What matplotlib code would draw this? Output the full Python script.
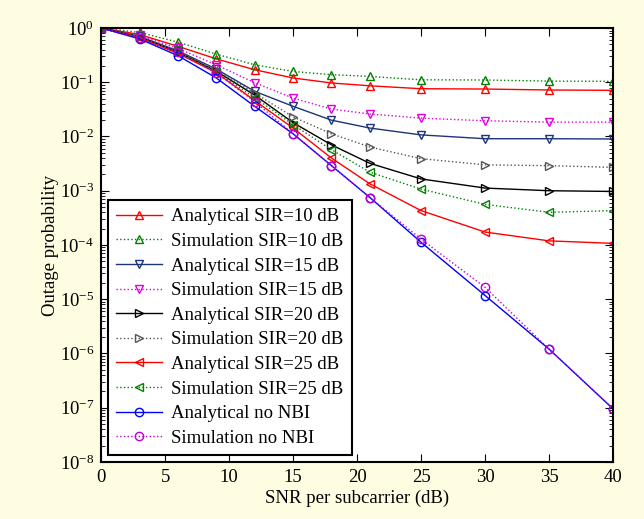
import matplotlib.pyplot as plt
import numpy as np

snr_db = [0, 3, 6, 9, 12, 15, 18, 21, 25, 30, 35, 40]

ana_sir10 = [1, 0.76, 0.46, 0.27, 0.17, 0.12, 0.097, 0.086, 0.076, 0.075, 0.072, 0.071]
sim_sir10 = [1, 0.83, 0.55, 0.33, 0.21, 0.158, 0.138, 0.128, 0.111, 0.110, 0.105, 0.104]
ana_sir15 = [1, 0.70, 0.38, 0.175, 0.068, 0.036, 0.020, 0.0143, 0.0107, 0.0091, 0.0091, 0.0090]
sim_sir15 = [1, 0.73, 0.42, 0.21, 0.098, 0.051, 0.032, 0.026, 0.0218, 0.0195, 0.0184, 0.0184]
ana_sir20 = [1, 0.68, 0.36, 0.16, 0.058, 0.018, 0.0070, 0.0032, 0.00165, 0.00112, 0.0010, 0.00097]
sim_sir20 = [1, 0.69, 0.37, 0.165, 0.063, 0.023, 0.0112, 0.0064, 0.0039, 0.0030, 0.0029, 0.0027]
ana_sir25 = [1, 0.66, 0.34, 0.15, 0.046, 0.0143, 0.0040, 0.00134, 4.3e-4, 1.73e-4, 1.19e-4, 1.07e-4]
sim_sir25 = [1, 0.67, 0.35, 0.155, 0.052, 0.0165, 0.0057, 0.0022, 1.07e-3, 5.6e-4, 4.0e-4, 4.3e-4]
ana_nonbi = [1, 0.63, 0.31, 0.12, 0.036, 0.0112, 0.0029, 7.5e-4, 1.12e-4, 1.17e-5, 1.2e-6, 9.5e-8]
sim_nonbi = [1, 0.65, 0.36, 0.148, 0.044, 0.0112, 0.0029, 7.5e-4, 1.28e-4, 1.65e-5, 1.2e-6, 9.5e-8]

plt.rcParams['font.family'] = ['Liberation Serif', 'DejaVu Serif']
plt.rcParams['mathtext.fontset'] = 'stix'

fs = 13.5
fig = plt.figure(figsize=(6.44, 5.19), dpi=100, facecolor='#FEFCE1')
ax = fig.add_axes([0.157, 0.110, 0.795, 0.836])

mk = dict(markerfacecolor='none', markersize=6, markeredgewidth=1.0, linewidth=1.0)
ax.semilogy(snr_db, ana_sir10, '-^', color='red', label='Analytical SIR=10 dB', **mk)
ax.semilogy(snr_db, sim_sir10, ':^', color='green', label='Simulation SIR=10 dB', **mk)
ax.semilogy(snr_db, ana_sir15, '-v', color='#1C3578', label='Analytical SIR=15 dB', **mk)
ax.semilogy(snr_db, sim_sir15, ':v', color='#E000E0', label='Simulation SIR=15 dB', **mk)
ax.semilogy(snr_db, ana_sir20, '->', color='black', label='Analytical SIR=20 dB', **mk)
ax.semilogy(snr_db, sim_sir20, ':>', color='#555555', label='Simulation SIR=20 dB', **mk)
ax.semilogy(snr_db, ana_sir25, '-<', color='red', label='Analytical SIR=25 dB', **mk)
ax.semilogy(snr_db, sim_sir25, ':<', color='green', label='Simulation SIR=25 dB', **mk)
ax.semilogy(snr_db, ana_nonbi, '-o', color='blue', label='Analytical no NBI', **mk)
ax.semilogy(snr_db, sim_nonbi, ':o', color='#C000D0', label='Simulation no NBI', **mk)

ax.set_xlim(0, 40)
ax.set_ylim(1e-8, 1)
ax.set_xticks(np.arange(0, 41, 5))
ax.set_yticks([10.0 ** k for k in range(-8, 1)])
ax.tick_params(which='both', direction='in', top=True, right=True, labelsize=fs, pad=5)
ax.tick_params(which='major', length=6)
ax.tick_params(which='minor', length=3)
for s in ax.spines.values():
    s.set_linewidth(1.5)

ax.set_xlabel('SNR per subcarrier (dB)', fontsize=fs, labelpad=3)
ax.set_ylabel('Outage probability', fontsize=fs, labelpad=0)

leg = ax.legend(loc='lower left', fontsize=fs, handlelength=2.45, labelspacing=0.40,
                fancybox=False, edgecolor='black', framealpha=1, borderaxespad=0.35,
                borderpad=0.45, handletextpad=0.5)
leg.get_frame().set_linewidth(1.5)

fig.savefig('out.png', dpi=100, facecolor=fig.get_facecolor())
